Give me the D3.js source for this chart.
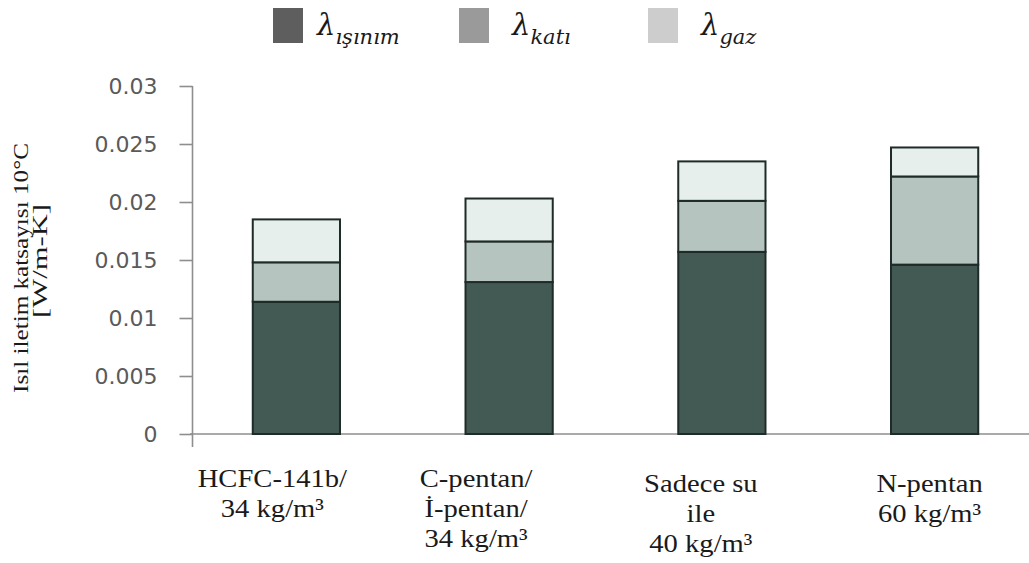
<!DOCTYPE html>
<html>
<head>
<meta charset="utf-8">
<script src="https://cdn.jsdelivr.net/npm/d3@7"></script>
<style>
  html, body { margin: 0; padding: 0; background: #ffffff; }
  svg { display: block; }
</style>
</head>
<body>
<svg id="chart" width="1029" height="563"></svg>
<script>
// Category labels (one array of lines per bar)
const categoryLines = [
  ["HCFC-141b/", "34 kg/m³"],
  ["C-pentan/", "İ-pentan/", "34 kg/m³"],
  ["Sadece su", "ile", "40 kg/m³"],
  ["N-pentan", "60 kg/m³"]
];
const categories = categoryLines.map(l => l.join(" "));

// Stacked components of the thermal conductivity [W/m-K]
const seriesNames = ["ışınım", "katı", "gaz"];
const isinim = [0.0114, 0.0131, 0.0157, 0.0146];
const kati   = [0.0034, 0.0035, 0.0044, 0.0076];
const gaz    = [0.0037, 0.0037, 0.0034, 0.0025];

// Y axis ticks
const yTicks = [0, 0.005, 0.01, 0.015, 0.02, 0.025, 0.03];
const yTickLabels = ["0", "0.005", "0.01", "0.015", "0.02", "0.025", "0.03"];

// Layout
const barFill = ["#425a53", "#b5c4bf", "#e7efed"];
const legendFill = ["#5e5e5e", "#9a9a9a", "#cdcdcd"];
const legendX = [273, 459, 648];
const labelShiftX = [-24, -33, -21, -5];
const labelShiftY = [0, 0, 5, 5];

const svg = d3.select("#chart");

const x = d3.scaleBand()
  .domain(categories)
  .range([190, 1041])
  .paddingInner(0.59)
  .paddingOuter(0.295);

const y = d3.scaleLinear()
  .domain([0, 0.03])
  .range([434, 86]);

// Stack the three components
const rows = categories.map((c, i) => ({
  cat: c,
  "ışınım": isinim[i],
  "katı": kati[i],
  "gaz": gaz[i]
}));
const stacked = d3.stack().keys(seriesNames)(rows);

// Axes lines
svg.append("line")
  .attr("x1", 190).attr("x2", 1029)
  .attr("y1", y(0)).attr("y2", y(0))
  .attr("stroke", "#8e8e8e").attr("stroke-width", 1.6);

svg.append("line")
  .attr("x1", 192.5).attr("x2", 192.5)
  .attr("y1", y(0.03)).attr("y2", y(0) + 13)
  .attr("stroke", "#8e8e8e").attr("stroke-width", 1.6);

const yAxis = d3.axisLeft(y)
  .tickValues(yTicks)
  .tickFormat((d, i) => yTickLabels[i])
  .tickSize(13)
  .tickPadding(22);

const gy = svg.append("g")
  .attr("transform", "translate(192.5,0)")
  .call(yAxis);
gy.select(".domain").remove();
gy.selectAll(".tick line").attr("stroke", "#8e8e8e").attr("stroke-width", 1.6);
gy.selectAll(".tick text")
  .attr("fill", "#5a5a5a")
  .style("font-family", "'DejaVu Sans', sans-serif")
  .style("font-size", "22px");

// Bars
svg.append("g")
  .selectAll("g")
  .data(stacked)
  .join("g")
  .attr("fill", (d, i) => barFill[i])
  .selectAll("rect")
  .data(d => d)
  .join("rect")
  .attr("x", d => x(d.data.cat))
  .attr("width", x.bandwidth())
  .attr("y", d => y(d[1]))
  .attr("height", d => y(d[0]) - y(d[1]))
  .attr("stroke", "#1f2b28")
  .attr("stroke-width", 2);

// Category labels
const labels = svg.append("g")
  .selectAll("text")
  .data(categoryLines)
  .join("text")
  .attr("transform", (d, i) =>
    `translate(${x(categories[i]) + x.bandwidth() / 2 + labelShiftX[i]},${487 + labelShiftY[i]}) scale(1.1,1)`)
  .attr("text-anchor", "middle")
  .attr("fill", "#1a1a1a")
  .style("font-family", "'Liberation Serif', 'Times New Roman', serif")
  .style("font-size", "26px");

labels.selectAll("tspan")
  .data(d => d)
  .join("tspan")
  .attr("x", 0)
  .attr("dy", (d, i) => i === 0 ? 0 : 30)
  .text(d => d);

// Y axis title
const yTitle = svg.append("g")
  .style("font-family", "'Liberation Serif', 'Times New Roman', serif")
  .style("font-size", "22px")
  .attr("fill", "#1a1a1a");

yTitle.append("text")
  .attr("transform", "translate(28,268) rotate(-90)")
  .attr("text-anchor", "middle")
  .attr("textLength", 250)
  .attr("lengthAdjust", "spacingAndGlyphs")
  .text("Isıl iletim katsayısı 10°C");

yTitle.append("text")
  .attr("transform", "translate(47,261) rotate(-90)")
  .attr("text-anchor", "middle")
  .attr("textLength", 114)
  .attr("lengthAdjust", "spacingAndGlyphs")
  .text("[W/m-K]");

// Legend
const legend = svg.append("g")
  .selectAll("g")
  .data(seriesNames)
  .join("g")
  .attr("transform", (d, i) => `translate(${legendX[i]},0)`);

legend.append("rect")
  .attr("x", 0).attr("y", 8)
  .attr("width", 30).attr("height", 35)
  .attr("fill", (d, i) => legendFill[i]);

const lt = legend.append("text")
  .attr("x", (d, i) => i === 0 ? 44 : 53)
  .attr("y", 35)
  .attr("fill", "#1a1a1a")
  .style("font-family", "'DejaVu Serif', serif")
  .style("font-style", "italic");

lt.append("tspan")
  .style("font-size", "29px")
  .text("λ");

lt.append("tspan")
  .attr("dy", 9)
  .style("font-size", "21px")
  .text(d => d);
</script>
</body>
</html>
